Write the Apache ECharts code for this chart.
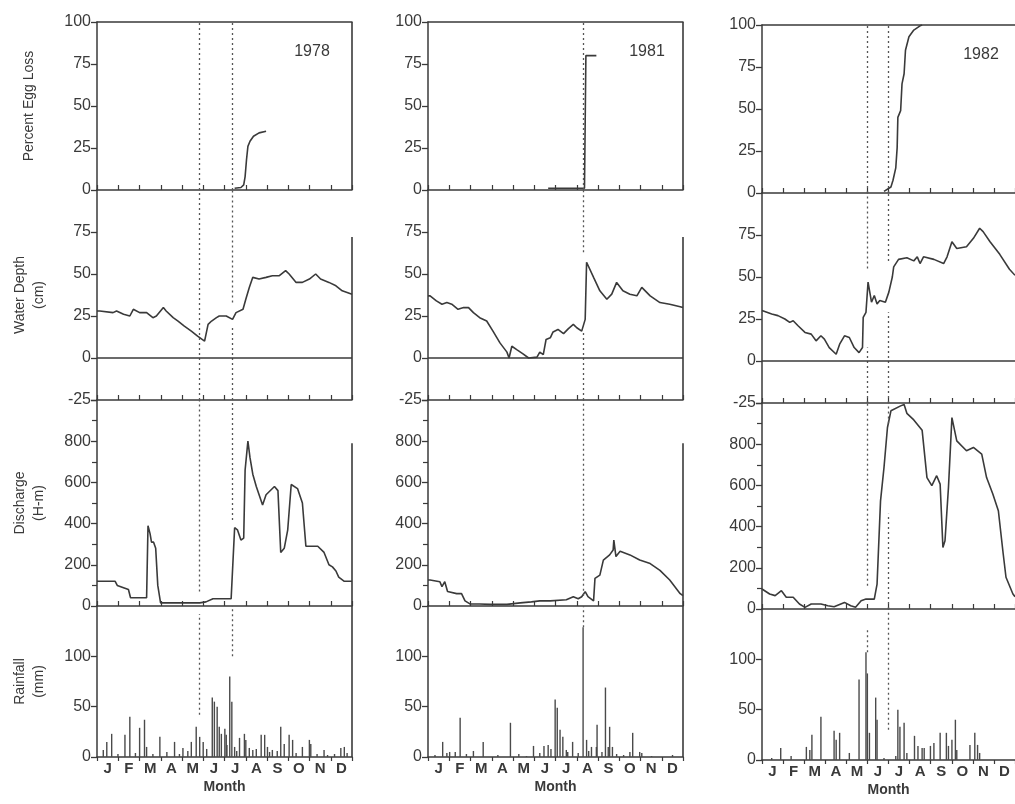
<!DOCTYPE html>
<html><head><meta charset="utf-8">
<script src="https://cdn.jsdelivr.net/npm/echarts@6/dist/echarts.min.js"></script>
<style>html,body{margin:0;padding:0;background:#fff}#c{width:1015px;height:804px}</style>
</head><body><div id="c"></div><script>
// ---------- categories / labels ----------
const months = ['J','F','M','A','M','J','J','A','S','O','N','D'];
const years = ['1978','1981','1982'];
const panelNames = ['Percent Egg Loss','Water Depth\n(cm)','Discharge\n(H-m)','Rainfall\n(mm)'];
const DAYS = 365;

// ---------- Percent egg loss [day of year, %] ----------
const egg1978 = [[197,1],[206,1.5],[210,3],[212,8],[214,18],[216,26],[219,29],[224,32],[232,34],[242,35]];
const egg1981 = [[172,1],[224,1],[226,2],[226,80],[241,80]];
const egg1982 = [[176,1],[186,3.6],[189,7.6],[193,15],[195,27],[196,45],[200,49],[202,65],[205,71],[207,85],[212,93],[219,97],[228,99.5],[231,100]];

// ---------- Water depth [day, cm] ----------
const depth1978 = [[0,28],[4,28],[23,27],[28,28],[38,26],[47,25],[52,29],[61,27],[71,27],[80,24],[85,25],[95,30],[99,28],[109,24],[116,22],[125,19],[135,16],[144,13],[154,10],[159,20],[164,22],[171,24],[175,25],[185,25],[194,23],[199,27],[209,29],[213,35],[218,42],[223,48],[232,47],[242,48],[251,49],[261,49],[270,52],[275,50],[285,45],[294,45],[304,47],[313,50],[320,47],[332,45],[342,43],[351,40],[358,39],[365,38]];
const depth1981 = [[0,37],[3,37],[12,34],[20,32],[27,33],[34,32],[43,29],[51,30],[58,30],[65,27],[74,24],[84,22],[93,16],[103,9],[113,3.5],[116,0],[120,7],[127,5],[136,2.5],[144,0],[156,0.5],[160,3.5],[165,2],[169,11],[175,12],[179,15.5],[186,17],[194,14.5],[201,17.5],[208,20],[213,18],[220,16],[225,23],[227,57],[229,57],[237,48],[246,40],[256,35],[263,38],[270,45],[279,40],[289,38],[299,37],[306,42],[318,37],[332,33],[346,32],[361,30.5],[365,30]];
const depth1982 = [[0,30],[2,30],[14,28],[23,27],[33,25],[40,23],[45,24],[52,21],[62,17],[71,16],[78,12],[85,15],[90,13],[97,8],[107,4],[112,10],[119,15],[126,14],[133,8],[140,5],[145,8],[146,26],[150,29],[153,47],[158,35],[162,39],[166,34],[170,36],[178,35],[183,41],[188,50],[190,56],[197,60.5],[209,61.5],[219,59.6],[224,62],[228,58],[233,62],[248,60.5],[262,58],[267,62],[274,71],[281,67],[295,68],[305,73],[314,79],[319,77],[329,71],[343,63.5],[357,54.6],[365,51]];

// ---------- Discharge [day, H-m] ----------
const discharge1978 = [[0,120],[26,120],[29,100],[33,95],[45,80],[48,40],[71,40],[73,390],[76,350],[78,310],[81,310],[84,280],[87,100],[91,15],[147,15],[156,20],[166,35],[192,35],[197,380],[201,370],[206,320],[210,330],[212,660],[216,800],[219,720],[223,640],[228,580],[237,490],[242,540],[254,580],[259,560],[263,260],[268,280],[273,370],[278,590],[287,570],[294,500],[299,290],[316,290],[325,260],[332,200],[337,190],[342,170],[346,140],[354,120],[365,120]];
const discharge1981 = [[0,126],[3,126],[17,118],[20,94],[24,118],[28,70],[41,60],[48,60],[53,25],[60,10],[74,10],[89,8],[113,8],[132,15],[148,20],[160,25],[175,25],[198,30],[208,45],[215,35],[220,45],[225,70],[229,45],[237,25],[239,134],[246,150],[251,223],[260,248],[265,272],[266,320],[269,240],[275,266],[289,248],[303,223],[318,206],[332,173],[346,126],[361,60],[365,50]];
const discharge1982 = [[0,97],[11,73],[19,65],[28,89],[35,57],[45,57],[54,24],[62,8],[71,24],[85,24],[95,16],[104,11],[119,32],[128,16],[135,8],[143,40],[150,48],[162,48],[166,121],[171,525],[176,687],[181,881],[186,962],[200,986],[205,993],[209,950],[219,918],[231,868],[238,638],[245,599],[252,647],[257,606],[261,299],[264,331],[269,590],[274,929],[281,816],[295,768],[305,784],[317,752],[324,638],[333,558],[341,477],[348,267],[352,154],[362,73],[365,60]];

// ---------- Rainfall [day, mm] ----------
const rain1978 = [[9,7],[14,15],[21,23],[30,3],[40,22],[47,40],[55,4],[61,29],[68,37],[71,10],[80,3],[90,20],[100,5],[111,15],[118,3],[123,9],[130,6],[135,15],[142,30],[147,20],[152,15],[157,8],[165,59],[168,55],[172,50],[175,30],[178,23],[183,28],[185,22],[186,12],[190,80],[193,55],[197,10],[200,6],[204,19],[211,23],[213,17],[218,9],[223,7],[228,8],[235,22],[240,22],[244,10],[247,5],[251,7],[258,6],[263,30],[268,13],[275,22],[280,17],[285,4],[294,10],[304,17],[306,13],[315,3],[325,7],[330,2],[340,3],[349,9],[354,10],[358,4]];
const rain1981 = [[10,2],[21,15],[27,4],[31,5],[39,5],[46,39],[55,3],[65,6],[79,15],[100,2],[118,34],[130,3],[141,1],[151,11],[160,4],[166,11],[172,12],[176,8],[182,57],[185,49],[189,27],[193,20],[198,7],[200,5],[207,15],[215,4],[222,129],[227,17],[230,6],[234,10],[241,10],[242,32],[249,5],[254,69],[258,10],[260,30],[264,10],[270,3],[280,2],[289,5],[293,24],[303,5],[306,4],[320,1],[350,2]];
const rain1982 = [[14,2],[27,12],[42,4],[64,13],[69,10],[72,25],[85,43],[104,29],[107,20],[112,27],[126,7],[140,80],[150,107],[152,86],[155,27],[164,62],[166,40],[176,2],[193,4],[196,50],[199,33],[205,37],[209,7],[220,24],[225,14],[231,12],[234,12],[243,14],[248,17],[257,27],[266,27],[269,14],[274,20],[279,40],[281,10],[300,15],[307,27],[311,15],[314,7]];

// ---------- dotted reference lines [day, from, to] ----------
const guideEgg1978 = [[147,0,100],[193,0,100]];
const guideDepth1978 = [[147,-25,100],[193,33,100],[193,-25,18]];
const guideDis1978 = [[147,70,1000],[193,417,1000]];
const guideRain1978 = [[147,42,142],[193,100,150]];
const guideEgg1981 = [[222,0,100]];
const guideDepth1981 = [[222,63,100],[222,-25,15]];
const guideDis1981 = [[222,50,1000]];
const guideRain1981 = [[222,129,150]];
const guideEgg1982 = [[152,0,100],[182,0,100]];
const guideDepth1982 = [[152,55,100],[152,-25,8],[182,59.5,100],[182,-25,29]];
const guideDis1982 = [[152,113,1000],[182,900,1000],[182,0,462]];
const guideRain1982 = [[152,107,130],[182,30,150]];

// right-hand frame segments [from, to] per panel row
const rightFrame = [[0,100],[-25,72],[0,790],[0,150]];

// axis ranges per panel row [min, max, interval]
const eggAxis = [0,100,25];
const depthAxis = [-25,100,25];
const dischargeAxis = [0,1000,200];
const rainAxis = [0,150,50];

// ---------- assemble ----------
const panelData = [
  [egg1978, depth1978, discharge1978, rain1978],
  [egg1981, depth1981, discharge1981, rain1981],
  [egg1982, depth1982, discharge1982, rain1982]
];
const panelGuides = [
  [guideEgg1978, guideDepth1978, guideDis1978, guideRain1978],
  [guideEgg1981, guideDepth1981, guideDis1981, guideRain1981],
  [guideEgg1982, guideDepth1982, guideDis1982, guideRain1982]
];
const axes = [eggAxis, depthAxis, dischargeAxis, rainAxis];

const ink = '#3a3a3a';
const FONT = 'Liberation Sans';
const colLeft = [97, 428, 762];
const colShift = [0, 0, 3];
const colWidth = 255;
const rowTop = [22, 190, 400, 606];
const rowHeight = [168, 210, 206, 151];

const grids = [], xAxes = [], yAxes = [], series = [];
for (let c = 0; c < 3; c++) {
  for (let r = 0; r < 4; r++) {
    const g = c * 4 + r;
    grids.push({left: colLeft[c], top: rowTop[r] + colShift[c], width: colWidth, height: rowHeight[r]});
    xAxes.push({
      type: 'value', gridIndex: g, min: 0, max: DAYS, position: r === 0 ? 'top' : 'bottom',
      show: r === 0,
      axisLine: {show: true, onZero: false, lineStyle: {color: ink, width: 1.5}},
      axisTick: {show: false}, axisLabel: {show: false}, splitLine: {show: false}
    });
    xAxes.push({
      type: 'category', gridIndex: g, data: months, position: 'bottom', boundaryGap: true,
      axisLine: {show: true, onZero: false, lineStyle: {color: ink, width: 1.5}},
      axisTick: {show: true, inside: r < 3, length: r < 3 ? 5 : 4, interval: 0, lineStyle: {color: ink, width: 1.2}},
      axisLabel: {show: r === 3, interval: 0, fontSize: 15, fontWeight: 'bold', fontFamily: FONT, color: ink, margin: 4},
      splitLine: {show: false},
      name: r === 3 ? 'Month' : '', nameLocation: 'middle', nameGap: 23,
      nameTextStyle: {fontSize: 14, fontWeight: 'bold', fontFamily: FONT, color: ink}
    });
    const [mn, mx, iv] = axes[r];
    yAxes.push({
      type: 'value', gridIndex: g, min: mn, max: mx, interval: iv, position: 'left',
      axisLine: {show: true, onZero: false, lineStyle: {color: ink, width: 1.5}},
      axisTick: {show: true, length: 6, lineStyle: {color: ink, width: 1.3}},
      minorTick: {show: r === 2, splitNumber: 2, length: 5, lineStyle: {color: ink, width: 1.2}},
      axisLabel: {showMaxLabel: r === 0, showMinLabel: true, fontSize: 16, fontFamily: FONT, color: ink, margin: 6},
      splitLine: {show: false},
      name: c === 0 ? panelNames[r] : '', nameLocation: 'middle', nameGap: r === 0 ? 58 : 48,
      nameTextStyle: {fontSize: 14, fontFamily: FONT, color: ink, lineHeight: 19}
    });

    const mlData = [];
    panelGuides[c][r].forEach(([x, y1, y2]) => {
      mlData.push([{coord: [x, y1], lineStyle: {type: [2, 3], color: '#555', width: 1.3}}, {coord: [x, y2]}]);
    });
    if (c < 2) {
      const [f1, f2] = rightFrame[r];
      mlData.push([{coord: [DAYS, f1], lineStyle: {type: 'solid', color: ink, width: 1.6}}, {coord: [DAYS, f2]}]);
    }
    if (r === 1) {
      mlData.push([{coord: [0, 0], lineStyle: {type: 'solid', color: ink, width: 1.5}}, {coord: [DAYS, 0]}]);
    }
    const markLine = {silent: true, symbol: ['none', 'none'], label: {show: false}, animation: false, data: mlData};

    if (r === 3) {
      series.push({
        type: 'bar', xAxisIndex: 2 * g, yAxisIndex: g, data: panelData[c][r],
        barWidth: 1.4, itemStyle: {color: '#4a4a4a'}, markLine
      });
    } else {
      series.push({
        type: 'line', xAxisIndex: 2 * g, yAxisIndex: g, data: panelData[c][r],
        showSymbol: false, lineStyle: {color: ink, width: 1.6}, markLine
      });
    }
  }
}

const yearX = [312, 647, 981];
const graphic = years.map((y, i) => ({
  type: 'text', x: yearX[i], y: 52 + colShift[i], silent: true,
  style: {text: y, align: 'center', verticalAlign: 'middle', font: '16px "Liberation Sans"', fill: ink}
}));

const chart = echarts.init(document.getElementById('c'));
chart.setOption({
  animation: false, backgroundColor: '#fff',
  grid: grids, xAxis: xAxes, yAxis: yAxes, series, graphic
});
</script></body></html>
